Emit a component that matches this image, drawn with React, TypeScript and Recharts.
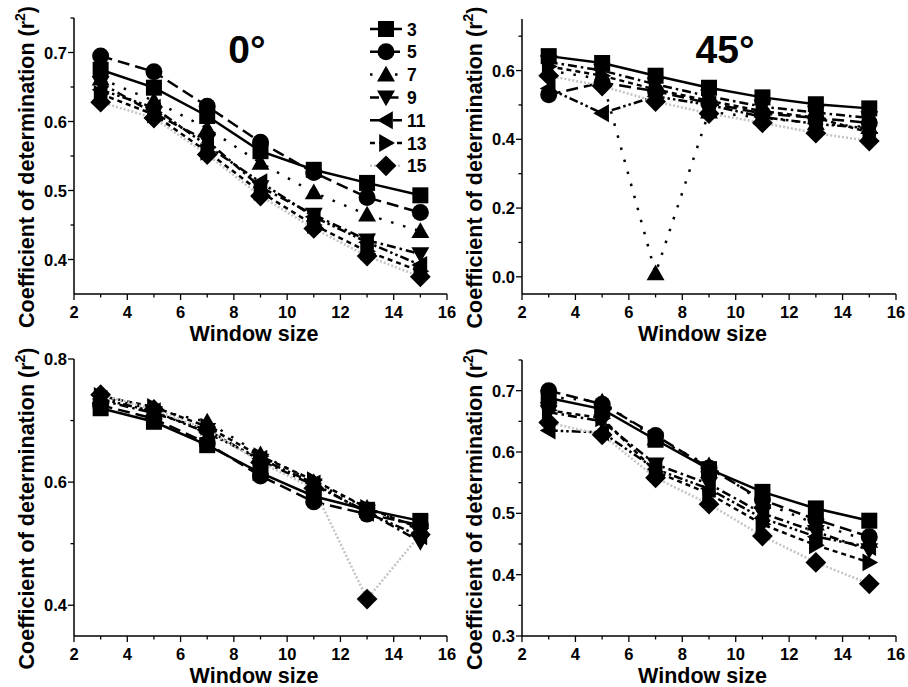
import { LineChart, Line, XAxis, YAxis, Legend } from 'recharts'

const FONT = '"Liberation Sans", Arial, sans-serif'

// window sizes on the x axis
const windowSizes = [3, 5, 7, 9, 11, 13, 15]
const seriesNames = ['3', '5', '7', '9', '11', '13', '15']

// top-left panel (0°)
const a3 = [0.675, 0.649, 0.608, 0.557, 0.530, 0.511, 0.493]
const a5 = [0.695, 0.672, 0.622, 0.570, 0.526, 0.490, 0.468]
const a7 = [0.662, 0.630, 0.590, 0.540, 0.497, 0.465, 0.441]
const a9 = [0.656, 0.612, 0.572, 0.505, 0.465, 0.428, 0.408]
const a11 = [0.646, 0.620, 0.565, 0.512, 0.462, 0.425, 0.392]
const a13 = [0.640, 0.610, 0.556, 0.498, 0.450, 0.412, 0.383]
const a15 = [0.628, 0.605, 0.552, 0.492, 0.445, 0.405, 0.375]

// top-right panel (45°)
const b3 = [0.642, 0.622, 0.585, 0.550, 0.522, 0.502, 0.490]
const b5 = [0.530, 0.565, 0.540, 0.505, 0.475, 0.462, 0.448]
const b7 = [0.600, 0.575, 0.010, 0.480, 0.462, 0.447, 0.435]
const b9 = [0.625, 0.600, 0.560, 0.525, 0.495, 0.478, 0.462]
const b11 = [0.548, 0.476, 0.525, 0.500, 0.465, 0.445, 0.432]
const b13 = [0.612, 0.585, 0.545, 0.512, 0.482, 0.463, 0.420]
const b15 = [0.585, 0.555, 0.510, 0.475, 0.448, 0.418, 0.395]

// bottom-left panel
const c3 = [0.720, 0.698, 0.660, 0.615, 0.577, 0.555, 0.537]
const c5 = [0.725, 0.703, 0.663, 0.610, 0.568, 0.548, 0.530]
const c7 = [0.738, 0.718, 0.698, 0.645, 0.600, 0.558, 0.522]
const c9 = [0.733, 0.712, 0.685, 0.635, 0.595, 0.552, 0.503]
const c11 = [0.735, 0.715, 0.680, 0.638, 0.598, 0.550, 0.512]
const c13 = [0.740, 0.722, 0.690, 0.642, 0.603, 0.558, 0.525]
const c15 = [0.742, 0.718, 0.685, 0.632, 0.590, 0.410, 0.515]

// bottom-right panel
const d3 = [0.688, 0.670, 0.620, 0.572, 0.535, 0.508, 0.488]
const d5 = [0.700, 0.678, 0.627, 0.574, 0.522, 0.490, 0.462]
const d7 = [0.690, 0.682, 0.622, 0.578, 0.518, 0.483, 0.455]
const d9 = [0.665, 0.650, 0.580, 0.548, 0.500, 0.470, 0.440]
const d11 = [0.635, 0.632, 0.572, 0.540, 0.492, 0.462, 0.445]
const d13 = [0.668, 0.655, 0.568, 0.532, 0.482, 0.448, 0.420]
const d15 = [0.648, 0.628, 0.558, 0.515, 0.463, 0.420, 0.385]

// axis ticks
const xMajor = [2, 4, 6, 8, 10, 12, 14, 16]
const xMinor = [3, 5, 7, 9, 11, 13, 15]
const yMajorA = [0.4, 0.5, 0.6, 0.7]
const yMinorA = [0.45, 0.55, 0.65, 0.75]
const yMajorB = [0.0, 0.2, 0.4, 0.6]
const yMinorB = [0.1, 0.3, 0.5, 0.7]
const yMajorC = [0.4, 0.6, 0.8]
const yMinorC = [0.5, 0.7]
const yMajorD = [0.3, 0.4, 0.5, 0.6, 0.7]
const yMinorD = [0.35, 0.45, 0.55, 0.65, 0.75]

const Y_W = 60
const X_H = 60

type Shape = 'square' | 'circle' | 'up' | 'down' | 'left' | 'right' | 'diamond'

const styles: { shape: Shape; dash?: string; color: string }[] = [
  { shape: 'square', color: '#000' },
  { shape: 'circle', dash: '12 6', color: '#000' },
  { shape: 'up', dash: '2.5 10', color: '#000' },
  { shape: 'down', dash: '9 4 2.5 4', color: '#000' },
  { shape: 'left', dash: '9 3 2.5 3 2.5 3', color: '#000' },
  { shape: 'right', dash: '5 4', color: '#000' },
  { shape: 'diamond', dash: '2 2', color: '#c4c4c4' },
]

function Marker({ shape, cx, cy, r = 8 }: { shape: Shape; cx: number; cy: number; r?: number }) {
  const k = r * 1.12
  let pts = ''
  switch (shape) {
    case 'square':
      return <rect x={cx - r} y={cy - r} width={2 * r} height={2 * r} fill="#000" />
    case 'circle':
      return <circle cx={cx} cy={cy} r={r + 0.5} fill="#000" />
    case 'up':
      pts = `${cx},${cy - k} ${cx + k},${cy + r * 0.85} ${cx - k},${cy + r * 0.85}`
      break
    case 'down':
      pts = `${cx},${cy + k} ${cx + k},${cy - r * 0.85} ${cx - k},${cy - r * 0.85}`
      break
    case 'left':
      pts = `${cx - k},${cy} ${cx + r * 0.85},${cy - k} ${cx + r * 0.85},${cy + k}`
      break
    case 'right':
      pts = `${cx + k},${cy} ${cx - r * 0.85},${cy - k} ${cx - r * 0.85},${cy + k}`
      break
    case 'diamond':
      pts = `${cx},${cy - r * 1.3} ${cx + r * 1.3},${cy} ${cx},${cy + r * 1.3} ${cx - r * 1.3},${cy}`
      break
  }
  return <polygon points={pts} fill="#000" />
}

const toRows = (series: number[][]) =>
  windowSizes.map((w, i) => {
    const row: Record<string, number> = { w }
    series.forEach((s, j) => {
      row['s' + seriesNames[j]] = s[i]
    })
    return row
  })

const XTick = (props: any) => {
  const { x, y, payload } = props
  const major = xMajor.includes(payload.value)
  return (
    <g>
      <line x1={x} y1={y} x2={x} y2={y + (major ? 6 : 3.5)} stroke="#000" strokeWidth={1.3} />
      {major && (
        <text x={x} y={y + 24} textAnchor="middle" fontSize={16.5} fontWeight="bold" fontFamily={FONT} fill="#000">
          {payload.value}
        </text>
      )}
    </g>
  )
}

const makeYTick = (majors: number[]) => (props: any) => {
  const { x, y, payload } = props
  const major = majors.some((m) => Math.abs(m - payload.value) < 1e-6)
  return (
    <g>
      <line x1={x} y1={y} x2={x - (major ? 6 : 3.5)} y2={y} stroke="#000" strokeWidth={1.3} />
      {major && (
        <text x={x - 7} y={y + 6} textAnchor="end" fontSize={16.5} fontWeight="bold" fontFamily={FONT} fill="#000">
          {payload.value.toFixed(1)}
        </text>
      )}
    </g>
  )
}

const YTitle = ({ viewBox }: any) => {
  const cx = viewBox.x + viewBox.width - 40
  const cy = viewBox.y + viewBox.height / 2 + 11
  return (
    <text
      x={cx}
      y={cy}
      transform={`rotate(-90 ${cx} ${cy})`}
      textAnchor="middle"
      fontSize={21.5}
      fontWeight="bold"
      fontFamily={FONT}
      fill="#000"
    >
      <tspan>Coefficient of determination (r</tspan>
      <tspan fontSize={14} dy={-9}>2</tspan>
      <tspan dy={9}>)</tspan>
    </text>
  )
}

const XTitle = ({ viewBox }: any) => (
  <text
    x={viewBox.x + viewBox.width / 2 - 6.5}
    y={viewBox.y + 47}
    textAnchor="middle"
    fontSize={21.5}
    fontWeight="bold"
    fontFamily={FONT}
    fill="#000"
  >
    Window size
  </text>
)

function LegendBox() {
  return (
    <svg width={90} height={170}>
      {styles.map((s, i) => {
        const y = 14 + i * 22.8
        return (
          <g key={i}>
            <line x1={5} y1={y} x2={37} y2={y} stroke={s.color} strokeWidth={2.5} strokeDasharray={s.dash} />
            <Marker shape={s.shape} cx={21} cy={y} />
            <text x={42} y={y + 6.5} fontSize={17.5} fontWeight="bold" fontFamily={FONT} fill="#000">
              {seriesNames[i]}
            </text>
          </g>
        )
      })}
    </svg>
  )
}

type PanelProps = {
  series: number[][]
  box: { left: number; right: number; top: number; bottom: number }
  domain: [number, number]
  yMajor: number[]
  yMinor: number[]
  title?: string
  titleX?: number
  legend?: boolean
}

function Panel({ series, box, domain, yMajor, yMinor, title, titleX, legend }: PanelProps) {
  const rows = toRows(series)
  const yTicks = [...yMajor, ...yMinor].sort((p, q) => p - q)
  return (
    <div style={{ position: 'absolute', left: 0, top: 0 }}>
      <LineChart
        width={908}
        height={687}
        data={rows}
        margin={{
          left: box.left - Y_W,
          top: box.top,
          right: 908 - box.right,
          bottom: 687 - box.bottom - X_H,
        }}
      >
        <XAxis
          dataKey="w"
          type="number"
          domain={[2, 16]}
          ticks={[...xMajor, ...xMinor].sort((p, q) => p - q)}
          interval={0}
          height={X_H}
          tickSize={0}
          tickMargin={0}
          tickLine={false}
          tick={XTick}
          axisLine={{ stroke: '#000', strokeWidth: 1.5 }}
          label={{ content: XTitle }}
        />
        <YAxis
          type="number"
          domain={domain}
          allowDataOverflow
          ticks={yTicks}
          interval={0}
          width={Y_W}
          tickSize={0}
          tickMargin={0}
          tickLine={false}
          tick={makeYTick(yMajor)}
          axisLine={{ stroke: '#000', strokeWidth: 1.5 }}
          label={{ content: YTitle }}
        />
        {legend && (
          <Legend
            layout="vertical"
            align="center"
            verticalAlign="middle"
            content={() => <LegendBox />}
            wrapperStyle={{ position: 'absolute', left: 365, top: 15, width: 90, height: 170 }}
          />
        )}
        {styles.map((s, j) => (
          <Line
            key={j}
            dataKey={'s' + seriesNames[j]}
            name={seriesNames[j]}
            stroke={s.color}
            strokeWidth={2.5}
            strokeDasharray={s.dash}
            isAnimationActive={false}
            dot={(p: any) => <Marker key={p.index} shape={s.shape} cx={p.cx} cy={p.cy} />}
            activeDot={false}
          />
        ))}
        {title && (
          <text x={titleX} y={63} textAnchor="middle" fontSize={39} fontWeight="bold" fontFamily={FONT} fill="#000">
            {title}
          </text>
        )}
      </LineChart>
    </div>
  )
}

export default function App() {
  return (
    <div
      style={{
        position: 'absolute',
        left: 0,
        top: 0,
        width: 908,
        height: 687,
        overflow: 'hidden',
        background: '#fff',
      }}
    >
      <Panel
        series={[a3, a5, a7, a9, a11, a13, a15]}
        box={{ left: 74, right: 447, top: 18, bottom: 294 }}
        domain={[0.35, 0.75]}
        yMajor={yMajorA}
        yMinor={yMinorA}
        title="0°"
        titleX={247}
        legend
      />
      <Panel
        series={[b3, b5, b7, b9, b11, b13, b15]}
        box={{ left: 522, right: 896, top: 19, bottom: 294 }}
        domain={[-0.05, 0.75]}
        yMajor={yMajorB}
        yMinor={yMinorB}
        title="45°"
        titleX={725}
      />
      <Panel
        series={[c3, c5, c7, c9, c11, c13, c15]}
        box={{ left: 74, right: 447, top: 359, bottom: 636 }}
        domain={[0.35, 0.8]}
        yMajor={yMajorC}
        yMinor={yMinorC}
      />
      <Panel
        series={[d3, d5, d7, d9, d11, d13, d15]}
        box={{ left: 522, right: 896, top: 360, bottom: 636 }}
        domain={[0.3, 0.75]}
        yMajor={yMajorD}
        yMinor={yMinorD}
      />
    </div>
  )
}
